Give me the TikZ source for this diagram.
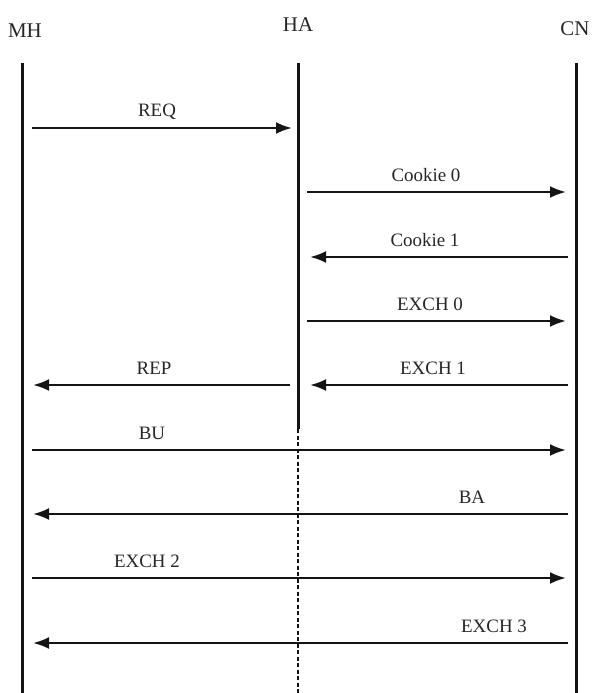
\documentclass[tikz,border=0pt]{standalone}
\usepackage{fontspec}
\setmainfont{Liberation Serif}
\usetikzlibrary{arrows.meta}
\definecolor{SeqInk}{HTML}{141414}
\definecolor{SeqText}{HTML}{262626}
\newcommand{\SeqName}{\fontsize{21}{24}\selectfont}
\newcommand{\SeqMsg}{\fontsize{19}{22}\selectfont}
\tikzset{
  entity/.style={
    font=\SeqName,
    text=SeqText,
    inner sep=0pt,
    anchor=base
  },
  lifeline/.style={
    draw=SeqInk,
    line width=3.0bp
  },
  idleline/.style={
    draw=SeqInk,
    line width=1.6bp,
    dash pattern=on 4bp off 2.5bp
  },
  msgarrow/.style={
    -{Latex[length=16bp,width=12bp]},
    draw=SeqInk,
    line width=2.4bp
  },
  msglabel/.style={
    font=\SeqMsg,
    text=SeqText,
    inner sep=0pt,
    anchor=base
  }
}

\begin{document}
\begin{tikzpicture}[x=1bp,y=-1bp]
\path[use as bounding box] (0,0) rectangle (595,693);

% entities
\node[entity] (mhName) at (25,38) {MH};
\node[entity] (haName) at (298,32) {HA};
\node[entity] (cnName) at (575,36) {CN};

% lifelines
\coordinate (mhTop) at (22,63);
\coordinate (mhBot) at (22,693);
\coordinate (haTop) at (298,63);
\coordinate (haEnd) at (298,429);
\coordinate (haBot) at (298,693);
\coordinate (cnTop) at (576,63);
\coordinate (cnBot) at (576,693);

\draw[lifeline] (mhTop) -- (mhBot);
\draw[lifeline] (haTop) -- (haEnd);
\draw[idleline] (haEnd) -- (haBot);
\draw[lifeline] (cnTop) -- (cnBot);

% registration with the home agent
\coordinate (reqS) at (32,128);    \coordinate (reqE) at (292,128);
\coordinate (ck0S) at (307,192);   \coordinate (ck0E) at (566,192);
\coordinate (ck1S) at (568,257);   \coordinate (ck1E) at (310,257);
\coordinate (ex0S) at (307,321);   \coordinate (ex0E) at (566,321);
\coordinate (ex1S) at (568,385);   \coordinate (ex1E) at (310,385);
\coordinate (repS) at (290,385);   \coordinate (repE) at (33,385);

\draw[msgarrow] (reqS) -- (reqE);
\node[msglabel] (reqLbl) at (157,117) {REQ};
\draw[msgarrow] (ck0S) -- (ck0E);
\node[msglabel] (ck0Lbl) at (426,181) {Cookie 0};
\draw[msgarrow] (ck1S) -- (ck1E);
\node[msglabel] (ck1Lbl) at (425,246) {Cookie 1};
\draw[msgarrow] (ex0S) -- (ex0E);
\node[msglabel] (ex0Lbl) at (430,310) {EXCH 0};
\draw[msgarrow] (ex1S) -- (ex1E);
\node[msglabel] (ex1Lbl) at (433,374) {EXCH 1};
\draw[msgarrow] (repS) -- (repE);
\node[msglabel] (repLbl) at (154,374) {REP};

% direct exchange with the correspondent node
\coordinate (buS) at (32,450);     \coordinate (buE) at (566,450);
\coordinate (baS) at (568,514);    \coordinate (baE) at (33,514);
\coordinate (ex2S) at (32,578);    \coordinate (ex2E) at (566,578);
\coordinate (ex3S) at (568,643);   \coordinate (ex3E) at (33,643);

\draw[msgarrow] (buS) -- (buE);
\node[msglabel] (buLbl) at (152,439) {BU};
\draw[msgarrow] (baS) -- (baE);
\node[msglabel] (baLbl) at (472,503) {BA};
\draw[msgarrow] (ex2S) -- (ex2E);
\node[msglabel] (ex2Lbl) at (147,567) {EXCH 2};
\draw[msgarrow] (ex3S) -- (ex3E);
\node[msglabel] (ex3Lbl) at (494,632) {EXCH 3};

\end{tikzpicture}
\end{document}
